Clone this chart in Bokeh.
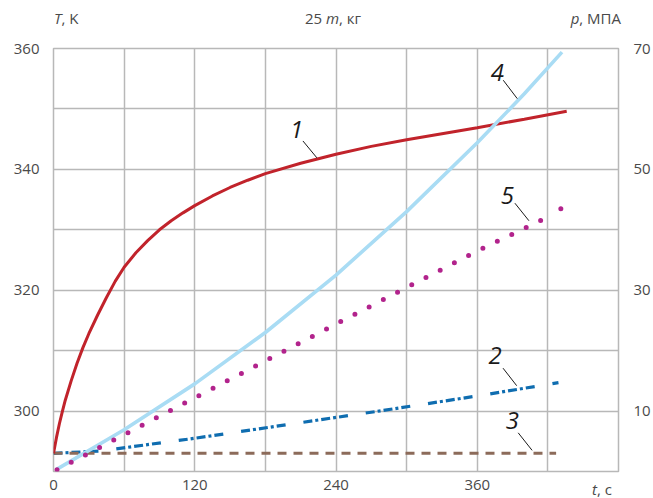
from bokeh.plotting import figure
from bokeh.models import Range1d, LinearAxis, FixedTicker, Label, Div
from bokeh.layouts import column
from bokeh.embed import file_html
from bokeh.resources import INLINE

# ---- data ----
# curve 1
t1 = [0, 2.5, 5, 7.5, 10, 15, 20, 25, 30, 37.5, 45, 52.5, 60, 70, 80, 90, 100, 110, 120,
      135, 150, 165, 180, 210, 240, 270, 300, 330, 360, 400, 436]
T1 = [293.0, 295.6, 297.9, 299.9, 301.8, 305.0, 307.9, 310.5, 312.8, 315.9, 318.8, 321.5,
      323.8, 326.2, 328.2, 330.0, 331.5, 332.8, 334.0, 335.6, 337.0, 338.2, 339.3, 341.0,
      342.5, 343.8, 344.9, 345.9, 346.9, 348.3, 349.6]
# curve 2
t2 = [0, 40, 120, 200, 280, 360, 429]
T2 = [293.0, 293.4, 295.5, 297.8, 300.1, 302.5, 304.7]
# curve 3
t3 = [0, 427]
T3 = [293.0, 293.0]
# curve 4
t4 = [3, 60, 120, 180, 240, 300, 360, 400, 432]
T4 = [290.4, 296.9, 304.5, 313.0, 322.5, 333.0, 344.4, 352.5, 359.4]
# curve 5
t5 = [3, 120, 240, 360, 419, 431]
T5 = [290.3, 302.2, 314.4, 326.5, 332.0, 333.5]

x_ticks = [0, 120, 240, 360]
x_grid = [0, 60, 120, 180, 240, 300, 360, 420, 480]
T_ticks = [300, 320, 340, 360]
T_grid = [290, 300, 310, 320, 330, 340, 350, 360]
p_ticks = [10, 30, 50, 70]

FONT = "Open Sans"
TXT = "#4a4a4a"
GRID = "#b8b8b8"

TOP_H = 30
p = figure(width=653, height=468, output_backend="svg", toolbar_location=None,
           x_range=Range1d(0, 480), y_range=Range1d(290, 360),
           min_border_left=53, min_border_right=33, min_border_top=18, min_border_bottom=27)
p.extra_y_ranges = {"p": Range1d(0, 70)}
p.background_fill_color = "white"
p.border_fill_color = "white"
p.outline_line_color = GRID
p.outline_line_width = 1.5

p.xaxis.ticker = FixedTicker(ticks=x_ticks)
p.yaxis.ticker = FixedTicker(ticks=T_ticks)
p.xgrid.ticker = FixedTicker(ticks=x_grid)
p.ygrid.ticker = FixedTicker(ticks=T_grid)
for g in (p.xgrid, p.ygrid):
    g.grid_line_color = GRID
    g.grid_line_width = 1.5

ax_r = LinearAxis(y_range_name="p", ticker=FixedTicker(ticks=p_ticks))
p.add_layout(ax_r, "right")

for ax in (p.xaxis[0], p.yaxis[0], ax_r):
    ax.axis_line_color = None
    ax.major_tick_line_color = None
    ax.minor_tick_line_color = None
    ax.major_tick_out = 0
    ax.major_tick_in = 0
    ax.major_label_text_font = FONT
    ax.major_label_text_font_size = "15px"
    ax.major_label_text_color = TXT
p.xaxis[0].major_label_standoff = 8
p.yaxis[0].major_label_standoff = 14
ax_r.major_label_standoff = 15

# ---- curves ----
p.line(t2, T2, line_color="#0f6db0", line_width=3.2, line_dash="9 3 3 3 9 3 3 3 9 18")
p.line(t3, T3, line_color="#8c6b5a", line_width=3, line_dash="9 7")
p.line(t1, T1, line_color="#c1232b", line_width=3)
p.line(t4, T4, line_color="#a9dcf4", line_width=3.6)
p.line(t5[:-1], T5[:-1], line_color="#b2238c", line_width=5, line_dash="0 16", line_cap="round")
p.scatter(t5[-1:], T5[-1:], size=5, fill_color="#b2238c", line_color=None)

# ---- curve number labels with leaders ----
num_x = [206.6, 375.1, 389.8, 377.0, 385.5]
num_y = [346.6, 309.2, 298.4, 356.1, 335.7]
nums = ["1", "2", "3", "4", "5"]
lead_x0 = [211.9, 381.9, 394.8, 382.1, 392.0]
lead_y0 = [344.7, 307.1, 296.4, 354.75, 334.4]
lead_x1 = [223.8, 393.5, 406.6, 394.0, 403.9]
lead_y1 = [341.9, 304.2, 293.5, 351.7, 331.5]
p.segment(lead_x0, lead_y0, lead_x1, lead_y1, line_color="#1a1a1a", line_width=1)
for x, y, s in zip(num_x, num_y, nums):
    p.add_layout(Label(x=x, y=y, text=s, text_font=FONT, text_font_size="24px",
                       text_font_style="italic", text_color="#1a1a1a",
                       text_align="center", text_baseline="middle"))

# ---- axis titles (mixed italic), placed outside the frame ----
span = ("position:absolute;white-space:nowrap;line-height:16px;font-family:'Open Sans';"
        "font-size:15px;color:%s;" % TXT)
html = (
    '<div style="position:relative;width:653px;height:%dpx;overflow:visible;">' % TOP_H
    + '<span style="%sleft:54px;top:10px;"><i>T</i>, K</span>' % span
    + '<span style="%sleft:333px;top:10px;transform:translateX(-50%%);">25 <i>m</i>, кг</span>' % span
    + '<span style="%sright:32px;top:10px;"><i>p</i>, МПА</span>' % span
    + '<span style="%sleft:592px;top:481px;"><i>t</i>, c</span>' % span
    + '</div>'
)
top = Div(text=html, width=653, height=TOP_H, margin=0,
          styles={"z-index": "10", "overflow": "visible"})
p.margin = 0

layout = column(top, p, spacing=0, margin=0)
open("out.html", "w").write(file_html(layout, INLINE))
